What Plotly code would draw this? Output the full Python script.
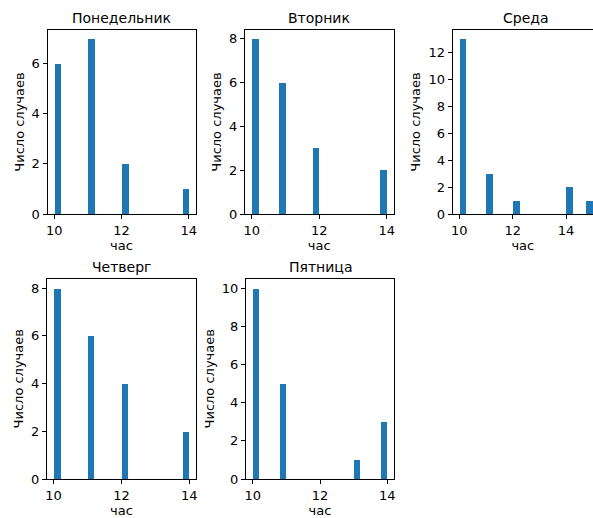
import plotly.graph_objects as go

W, H = 593, 518

days = ["Понедельник", "Вторник", "Среда", "Четверг", "Пятница"]

# histogram bins: left edge of each bin and its count
mon_bin_left = [10, 11, 12, 13.8]
mon_counts = [6, 7, 2, 1]
tue_bin_left = [10, 10.8, 11.8, 13.8]
tue_counts = [8, 6, 3, 2]
wed_bin_left = [10, 11, 12, 14, 14.75]
wed_counts = [13, 3, 1, 2, 1]
thu_bin_left = [10, 11, 12, 13.8]
thu_counts = [8, 6, 4, 2]
fri_bin_left = [10, 10.8, 13, 13.8]
fri_counts = [10, 5, 1, 3]

bin_widths = [0.2, 0.2, 0.25, 0.2, 0.2]
x_ticks = [10, 12, 14]
x_label = "час"
y_label = "Число случаев"

lefts = [mon_bin_left, tue_bin_left, wed_bin_left, thu_bin_left, fri_bin_left]
counts = [mon_counts, tue_counts, wed_counts, thu_counts, fri_counts]

# panel boxes in pixels: left, right, top, bottom
boxes = [
    (47.5, 195.5, 30, 214),
    (245, 393.5, 30, 214),
    (452.6, 593, 30, 214),
    (46.8, 196, 278.5, 479),
    (246, 394, 278.5, 479),
]
x_ranges = [[9.8, 14.2], [9.8, 14.2], [9.75, 15.01], [9.8, 14.2], [9.8, 14.2]]

FONT = "DejaVu Sans"
fig = go.Figure()
annotations = []
for i in range(5):
    n = "" if i == 0 else str(i + 1)
    fig.add_trace(go.Bar(
        x=lefts[i], y=counts[i], width=bin_widths[i], offset=0,
        marker=dict(color="#1f77b4", line=dict(width=0)),
        xaxis="x" + n, yaxis="y" + n, showlegend=False,
    ))
    l, r, t, b = boxes[i]
    ymax = max(counts[i]) * 1.05
    right_cut = i == 2
    fig.layout["xaxis" + n] = dict(
        domain=[l / W, r / W], anchor="y" + n, range=x_ranges[i], automargin=False,
        tickvals=x_ticks, ticks="outside", ticklen=4, tickwidth=1, tickcolor="black",
        showline=True, linecolor="black", linewidth=1, mirror=True,
        showgrid=False, zeroline=False,
        tickfont=dict(family=FONT, size=13, color="black"),
        title=dict(text=x_label, font=dict(family=FONT, size=13, color="black"), standoff=0),
    )
    fig.layout["yaxis" + n] = dict(
        domain=[1 - b / H, 1 - t / H], anchor="x" + n, range=[0, ymax], automargin=False,
        dtick=2, ticks="outside", ticklen=4, tickwidth=1, tickcolor="black",
        showline=True, linecolor="black", linewidth=1, mirror=not right_cut,
        showgrid=False, zeroline=False,
        tickfont=dict(family=FONT, size=13, color="black"),
        title=dict(text=y_label, font=dict(family=FONT, size=13, color="black"), standoff=4),
    )
    annotations.append(dict(
        text=days[i], xref="paper", yref="paper",
        x=((l + (r if not right_cut else l + 5.5 * 26.67)) / 2) / W,
        y=1 - (t - 12) / H, xanchor="center", yanchor="middle", showarrow=False,
        font=dict(family=FONT, size=14, color="black"),
    ))

fig.update_layout(
    width=W, height=H, margin=dict(l=0, r=0, t=0, b=0),
    paper_bgcolor="white", plot_bgcolor="white",
    annotations=annotations, bargap=0,
)
fig.write_html("out.html", config={"displayModeBar": False},
               post_script="document.body.style.margin='0';")
